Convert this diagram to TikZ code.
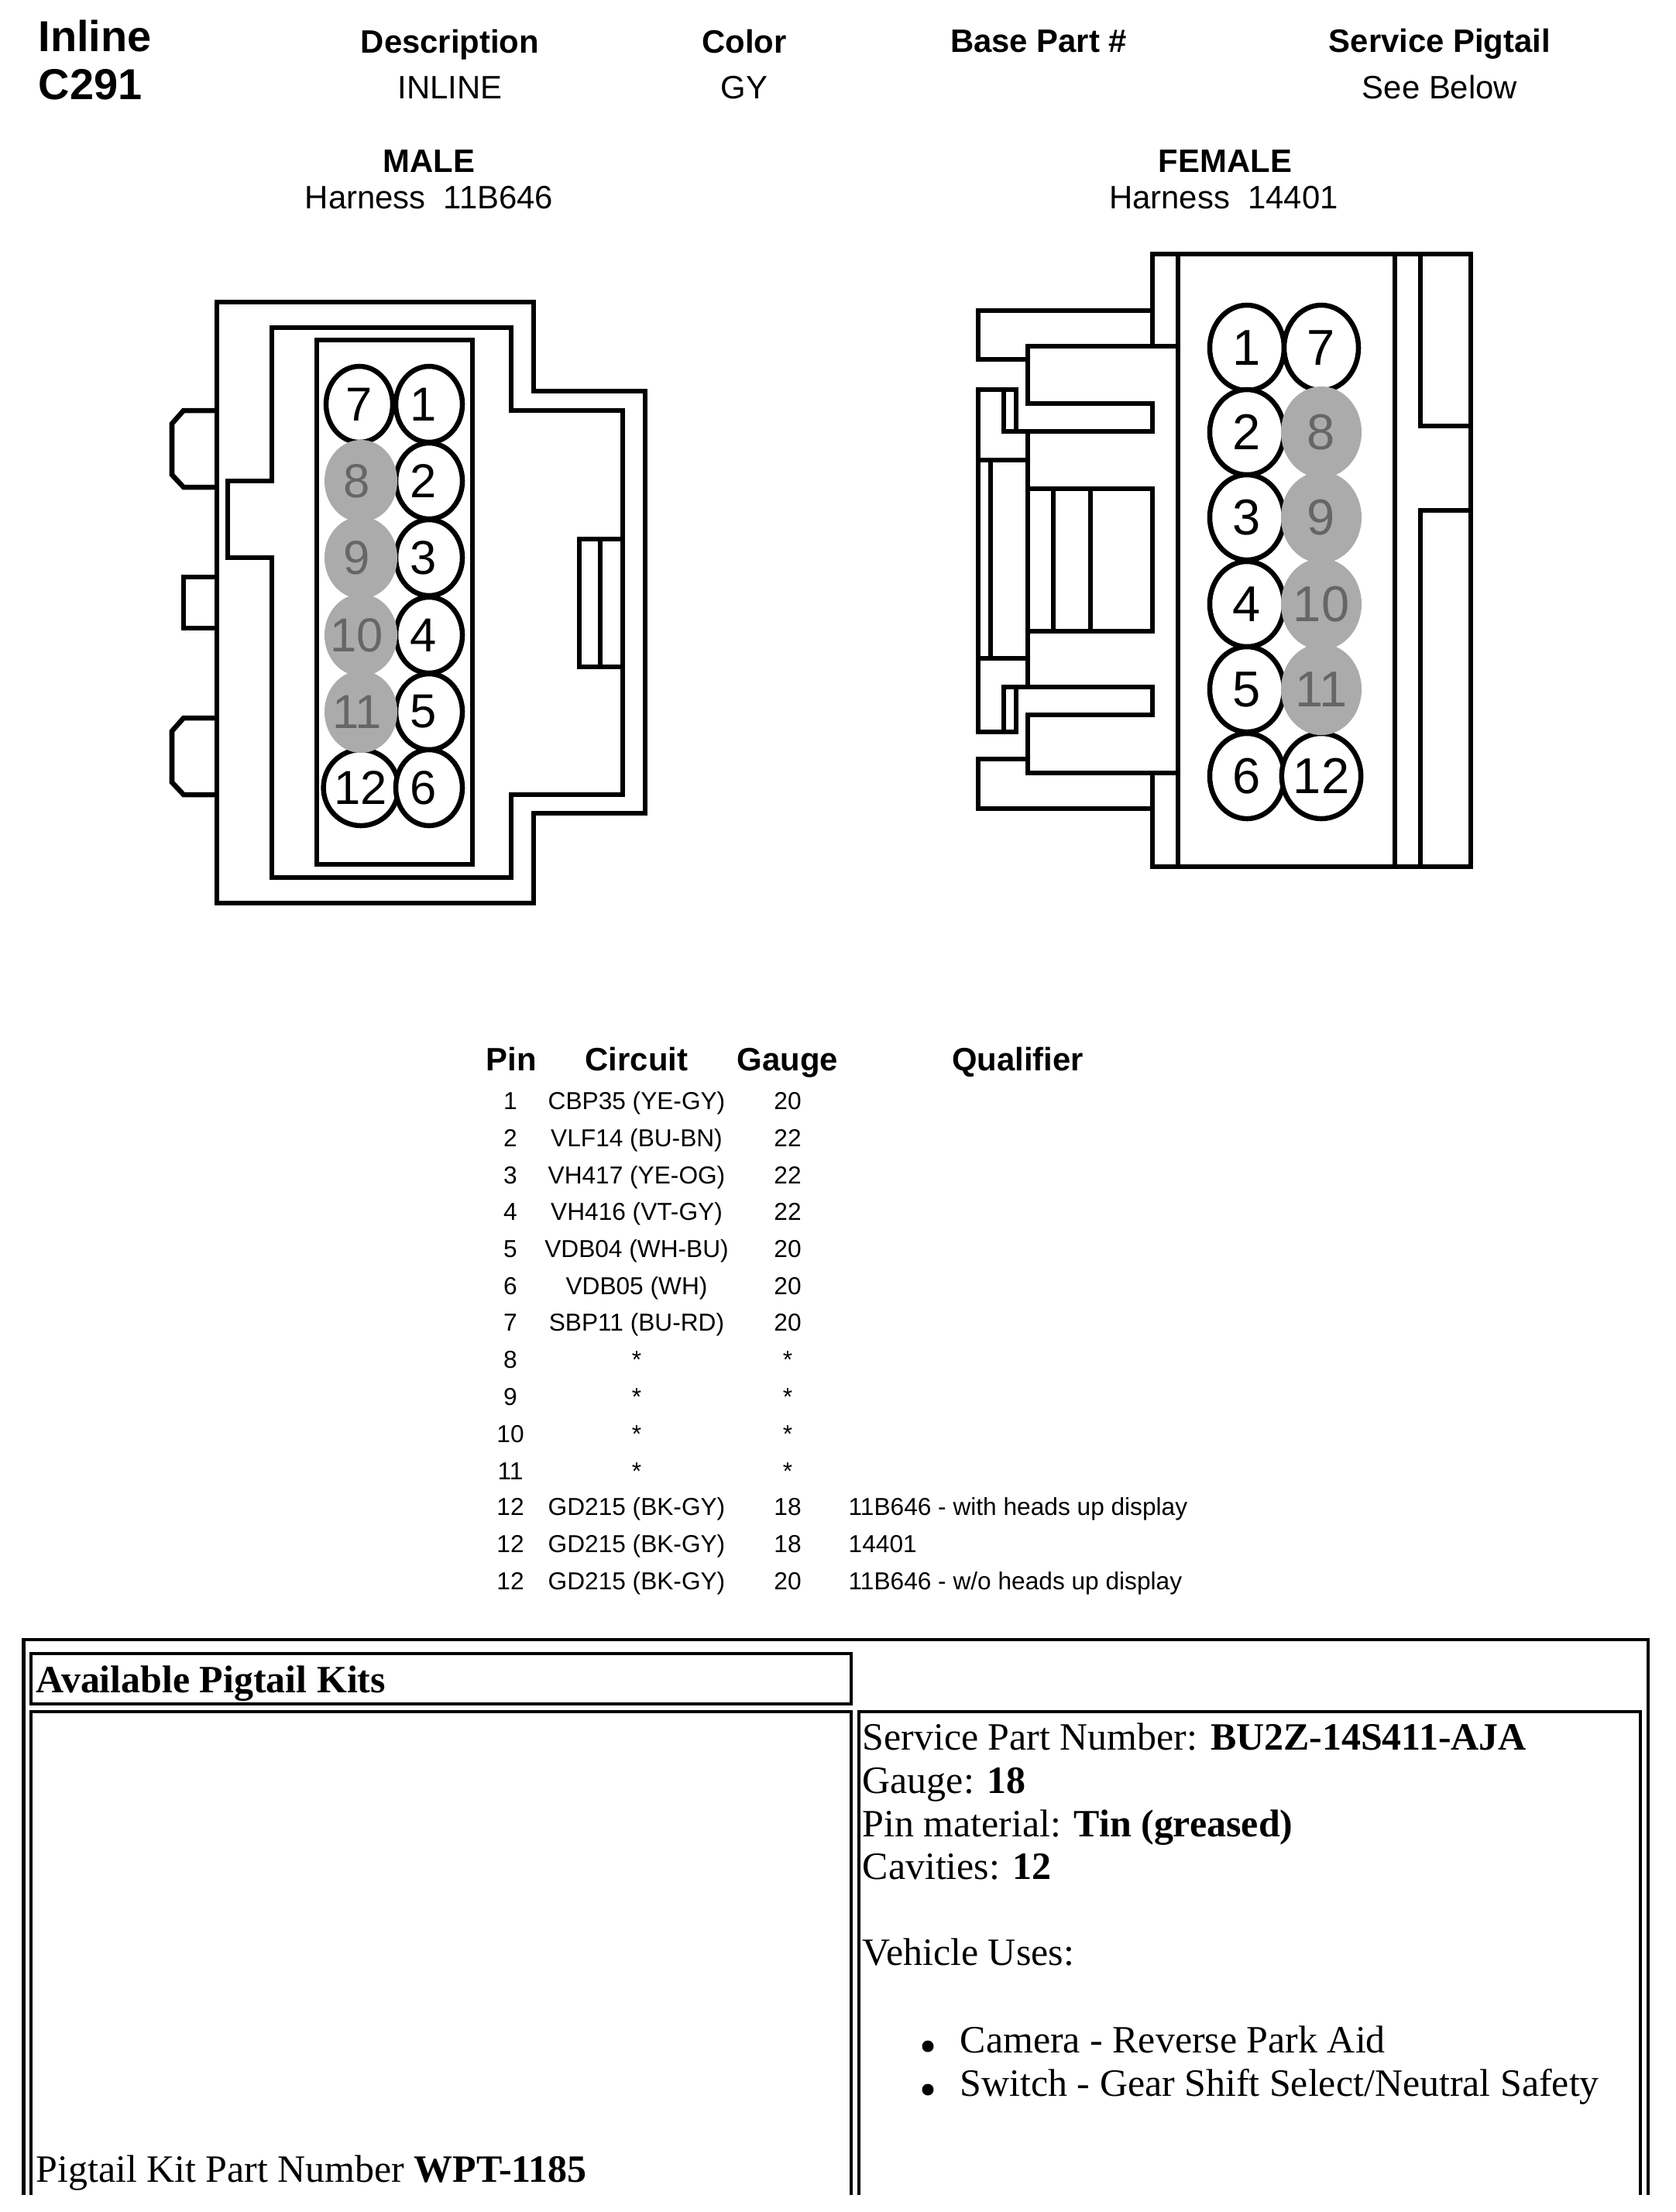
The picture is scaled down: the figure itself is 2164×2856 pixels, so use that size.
\documentclass[tikz,border=0pt]{standalone}
\usepackage{fontspec}
\setmainfont{Liberation Sans}
\newfontfamily\pagerm{Liberation Serif}
\usetikzlibrary{shapes.geometric}
\definecolor{pinfill}{HTML}{ABABAB}
\definecolor{pintext}{HTML}{666666}
\tikzset{
  shell/.style={line width=0.065cm},
  rule/.style={line width=0.04cm},
  thintext/.style={inner sep=0,anchor=base,font=\fontsize{11.9}{14}\selectfont},
  headtext/.style={thintext,font=\fontsize{11.9}{14}\selectfont\bfseries},
  bigtext/.style={inner sep=0,anchor=base west,font=\fontsize{15.9}{18}\selectfont\bfseries},
  rowtext/.style={inner sep=0,anchor=base,font=\fontsize{9}{11}\selectfont},
  kittext/.style={inner sep=0,anchor=base west,font=\pagerm\fontsize{14.2}{16}\selectfont},
  dot/.style={circle,fill=black,inner sep=0,minimum size=0.15cm},
  mpin/.style={ellipse,draw,fill=white,line width=0.065cm,inner sep=0,minimum width=0.86cm,minimum height=0.98cm,font=\fontsize{17.5}{20}\selectfont,execute at begin node={\kern-0.14cm}},
  mpinwide/.style={ellipse,draw,fill=white,line width=0.065cm,inner sep=0,minimum width=0.86cm,minimum height=0.98cm,font=\fontsize{17.5}{20}\selectfont},
  mblank/.style={ellipse,fill=pinfill,text=pintext,inner sep=0,minimum width=0.94cm,minimum height=1.06cm,font=\fontsize{17.5}{20}\selectfont,execute at begin node={\kern-0.1cm}},
  fpin/.style={ellipse,draw,fill=white,line width=0.065cm,inner sep=0,minimum width=0.96cm,minimum height=1.1cm,font=\fontsize{18.5}{22}\selectfont},
  fblank/.style={ellipse,fill=pinfill,text=pintext,inner sep=0,minimum width=1.04cm,minimum height=1.18cm,font=\fontsize{18.5}{22}\selectfont},
}
\begin{document}
\begin{tikzpicture}[x=0.01cm,y=-0.01cm]
  \useasboundingbox (0,0) rectangle (2164,2856);

  % header
  \node[bigtext] (kind) at (49,66) {Inline};
  \node[bigtext] (conn) at (49,128) {C291};
  \node[headtext] (deschd) at (581,68) {Description};
  \node[thintext] (descval) at (581,127) {INLINE};
  \node[headtext] (colhd) at (961,68) {Color};
  \node[thintext] (colval) at (961,127) {GY};
  \node[headtext] (basehd) at (1341,67) {Base Part \#};
  \node[headtext] (servhd) at (1859,67) {Service Pigtail};
  \node[thintext] (servval) at (1859,127) {See Below};
  \node[headtext] (malehd) at (554,222) {MALE};
  \node[thintext] (malenum) at (554,269) {Harness\ \ 11B646};
  \node[headtext] (femhd) at (1582,222) {FEMALE};
  \node[thintext] (femnum) at (1580,269) {Harness\ \ 14401};

  % male shell
  \draw[shell] (689,390) -- (280,390) -- (280,1166) -- (689,1166) -- (689,1050) -- (833,1050) -- (833,505) -- (689,505) -- cycle;
  \draw[shell] (351,423) -- (660,423) -- (660,530) -- (804,530) -- (804,1026) -- (660,1026) -- (660,1133) -- (351,1133) -- (351,720) -- (294,720) -- (294,621) -- (351,621) -- cycle;
  \draw[shell] (409,439) rectangle (610,1116);
  % male tabs
  \draw[shell] (280,530) -- (237,530) -- (222,547) -- (222,613) -- (237,629) -- (280,629);
  \draw[shell] (280,745) -- (237,745) -- (237,811) -- (280,811);
  \draw[shell] (280,927) -- (237,927) -- (222,944) -- (222,1010) -- (237,1026) -- (280,1026);
  \draw[shell] (804,696) -- (748,696) -- (748,861) -- (804,861) (775,696) -- (775,861);

  % male pins
  \node[mpinwide] (m7) at (464,522) {7};
  \node[mpinwide] (m12) at (466,1017) {12};
  \node[mpin] (m1) at (554,522) {1};
  \node[mpin] (m2) at (554,621) {2};
  \node[mpin] (m3) at (554,720) {3};
  \node[mpin] (m4) at (554,820) {4};
  \node[mpin] (m5) at (554,919) {5};
  \node[mpin] (m6) at (554,1017) {6};
  \node[mblank] (m8) at (466,621) {8};
  \node[mblank] (m9) at (466,720) {9};
  \node[mblank] (m10) at (466,820) {10};
  \node[mblank] (m11) at (466,919) {11};

  % female shell
  \draw[shell] (1488,447) -- (1488,328) -- (1899,328) -- (1899,1119) -- (1488,1119) -- (1488,998);
  \draw[shell] (1521,328) -- (1521,1119) (1801,328) -- (1801,1119);
  \draw[shell] (1834,328) -- (1834,550) -- (1899,550) (1899,659) -- (1834,659) -- (1834,1119);
  % female latch
  \draw[shell] (1488,401) -- (1263,401) -- (1263,464) -- (1327,464);
  \draw[shell] (1521,447) -- (1327,447) -- (1327,521) -- (1488,521) -- (1488,557) -- (1296,557) -- (1296,503);
  \draw[shell] (1312,557) -- (1312,503) -- (1263,503) -- (1263,945) -- (1312,945) -- (1312,887);
  \draw[shell] (1296,945) -- (1296,887) -- (1488,887) -- (1488,923) -- (1327,923) -- (1327,998) -- (1521,998);
  \draw[shell] (1327,980) -- (1263,980) -- (1263,1044) -- (1488,1044);
  \draw[shell] (1327,557) -- (1327,887);
  \draw[shell] (1263,594) -- (1327,594) (1263,850) -- (1327,850) (1279,594) -- (1279,850);
  \draw[shell] (1327,631) -- (1488,631) -- (1488,815) -- (1327,815);
  \draw[shell] (1360,631) -- (1360,815) (1408,631) -- (1408,815);

  % female pins
  \node[fpin] (f1) at (1610,449) {1};
  \node[fpin] (f2) at (1610,558) {2};
  \node[fpin] (f3) at (1610,668) {3};
  \node[fpin] (f4) at (1610,780) {4};
  \node[fpin] (f5) at (1610,890) {5};
  \node[fpin] (f6) at (1610,1002) {6};
  \node[fpin] (f7) at (1706,449) {7};
  \node[fpin] (f12) at (1706,1002) {12};
  \node[fblank] (f8) at (1706,558) {8};
  \node[fblank] (f9) at (1706,668) {9};
  \node[fblank] (f10) at (1706,780) {10};
  \node[fblank] (f11) at (1706,890) {11};

  % pin table head
  \node[headtext] (pinhd) at (660,1382) {Pin};
  \node[headtext] (circhd) at (822,1382) {Circuit};
  \node[headtext] (gaugehd) at (1017,1382) {Gauge};
  \node[headtext] (qualhd) at (1314,1382) {Qualifier};

  % pin table rows
  \node[rowtext] (p1) at (659,1432) {1};
  \node[rowtext] (c1) at (822,1432) {CBP35 (YE-GY)};
  \node[rowtext] (g1) at (1017,1432) {20};
  \node[rowtext] (p2) at (659,1480) {2};
  \node[rowtext] (c2) at (822,1480) {VLF14 (BU-BN)};
  \node[rowtext] (g2) at (1017,1480) {22};
  \node[rowtext] (p3) at (659,1528) {3};
  \node[rowtext] (c3) at (822,1528) {VH417 (YE-OG)};
  \node[rowtext] (g3) at (1017,1528) {22};
  \node[rowtext] (p4) at (659,1575) {4};
  \node[rowtext] (c4) at (822,1575) {VH416 (VT-GY)};
  \node[rowtext] (g4) at (1017,1575) {22};
  \node[rowtext] (p5) at (659,1623) {5};
  \node[rowtext] (c5) at (822,1623) {VDB04 (WH-BU)};
  \node[rowtext] (g5) at (1017,1623) {20};
  \node[rowtext] (p6) at (659,1671) {6};
  \node[rowtext] (c6) at (822,1671) {VDB05 (WH)};
  \node[rowtext] (g6) at (1017,1671) {20};
  \node[rowtext] (p7) at (659,1718) {7};
  \node[rowtext] (c7) at (822,1718) {SBP11 (BU-RD)};
  \node[rowtext] (g7) at (1017,1718) {20};
  \node[rowtext] (p8) at (659,1766) {8};
  \node[rowtext] (c8) at (822,1766) {*};
  \node[rowtext] (g8) at (1017,1766) {*};
  \node[rowtext] (p9) at (659,1814) {9};
  \node[rowtext] (c9) at (822,1814) {*};
  \node[rowtext] (g9) at (1017,1814) {*};
  \node[rowtext] (p10) at (659,1862) {10};
  \node[rowtext] (c10) at (822,1862) {*};
  \node[rowtext] (g10) at (1017,1862) {*};
  \node[rowtext] (p11) at (659,1910) {11};
  \node[rowtext] (c11) at (822,1910) {*};
  \node[rowtext] (g11) at (1017,1910) {*};
  \node[rowtext] (p12) at (659,1956) {12};
  \node[rowtext] (c12) at (822,1956) {GD215 (BK-GY)};
  \node[rowtext] (g12) at (1017,1956) {18};
  \node[rowtext,anchor=base west] (q12) at (1095,1956) {11B646 - with heads up display};
  \node[rowtext] (p13) at (659,2004) {12};
  \node[rowtext] (c13) at (822,2004) {GD215 (BK-GY)};
  \node[rowtext] (g13) at (1017,2004) {18};
  \node[rowtext,anchor=base west] (q13) at (1095,2004) {14401};
  \node[rowtext] (p14) at (659,2052) {12};
  \node[rowtext] (c14) at (822,2052) {GD215 (BK-GY)};
  \node[rowtext] (g14) at (1017,2052) {20};
  \node[rowtext,anchor=base west] (q14) at (1095,2052) {11B646 - w/o heads up display};

  % kit boxes
  \draw[rule] (30.5,2834) -- (30.5,2117) -- (2128,2117) -- (2128,2834);
  \draw[rule] (40,2135) rectangle (1099,2200);
  \draw[rule] (40,2834) -- (40,2210) -- (1099,2210) -- (1099,2834);
  \draw[rule] (1109,2834) -- (1109,2210) -- (2118,2210) -- (2118,2834);

  % kit text
  \node[kittext] (kithd) at (46,2185) {\textbf{Available Pigtail Kits}};
  \node[kittext] (kitnum) at (46,2817) {Pigtail Kit Part Number \textbf{WPT-1185}};
  \node[kittext] (sp) at (1113,2259) {Service Part Number: \textbf{BU2Z-14S411-AJA}};
  \node[kittext] (ga) at (1113,2315) {Gauge: \textbf{18}};
  \node[kittext] (ma) at (1113,2371) {Pin material: \textbf{Tin (greased)}};
  \node[kittext] (ca) at (1113,2426) {Cavities: \textbf{12}};
  \node[kittext] (vu) at (1113,2537) {Vehicle Uses:};
  \node[dot] (b1) at (1198,2642) {};
  \node[kittext] (u1) at (1239,2650) {Camera - Reverse Park Aid};
  \node[dot] (b2) at (1198,2698) {};
  \node[kittext] (u2) at (1239,2706) {Switch - Gear Shift Select/Neutral Safety};
\end{tikzpicture}
\end{document}
